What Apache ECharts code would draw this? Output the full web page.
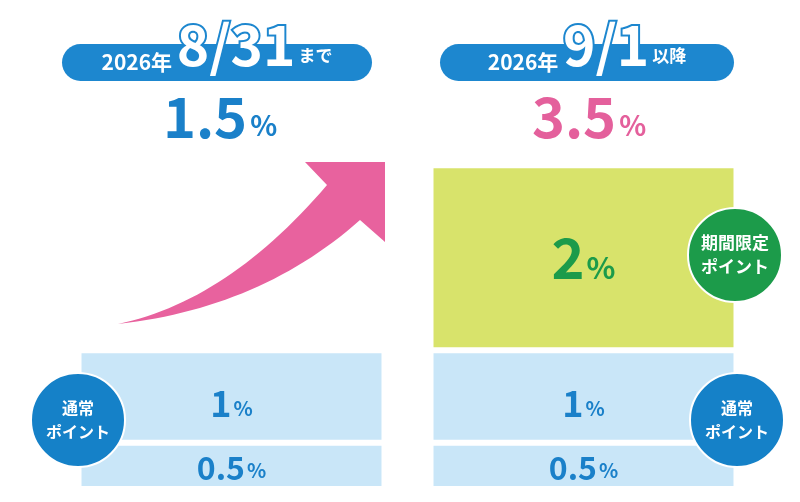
<!DOCTYPE html>
<html>
<head>
<meta charset="utf-8">
<script src="https://cdn.jsdelivr.net/npm/echarts@6/dist/echarts.min.js"></script>
<style>
  html, body { margin: 0; padding: 0; background: #fff; }
  #chart { width: 800px; height: 502px; }
</style>
</head>
<body>
<div id="chart"></div>
<script>
// データ
const periods = ['2026年8/31まで', '2026年9/1以降'];
const headerYear = ['2026年', '2026年'];
const headerDate = ['8/31', '9/1'];
const headerSuffix = ['まで', '以降'];
const basePoint = [0.5, 0.5];     // 0.5%
const normalPoint = [1, 1];       // 通常ポイント 1%
const limitedPoint = ['-', 2];    // 期間限定ポイント 2%

const FONT = '"Noto Sans CJK JP", "Noto Sans", sans-serif';
const BLUE = '#1a80c9';
const PILL = '#1d87cf';
const PINK = '#e4609c';
const GREEN = '#1c9b4a';
const LIGHT = '#c9e6f8';
const YELLOW = '#d8e36b';

const chart = echarts.init(document.getElementById('chart'));

function total(i) {
  let s = 0;
  [basePoint, normalPoint, limitedPoint].forEach(arr => {
    if (typeof arr[i] === 'number') s += arr[i];
  });
  return s;
}

function pctLabel(color, big, small) {
  return {
    show: true,
    position: 'inside',
    formatter: p => '{n|' + p.value + '}{p|%}',
    rich: {
      n: { fontFamily: FONT, fontWeight: 'bold', fontSize: big, color: color, verticalAlign: 'bottom' },
      p: { fontFamily: FONT, fontWeight: 'bold', fontSize: small, color: color, verticalAlign: 'bottom', padding: [0, 0, 3, 2] }
    }
  };
}

// 矢印 (装飾)
function quad(p0, c, p1, n) {
  const pts = [];
  for (let i = 0; i <= n; i++) {
    const t = i / n, u = 1 - t;
    pts.push([u * u * p0[0] + 2 * u * t * c[0] + t * t * p1[0],
              u * u * p0[1] + 2 * u * t * c[1] + t * t * p1[1]]);
  }
  return pts;
}
const tail = [118, 324];
const notch1 = [327, 185];
const notch2 = [360, 220];
const arrowPts = quad(tail, [228, 301], notch1, 30)
  .concat([[305, 162], [385, 162], [385, 242]])
  .concat(quad(notch2, [261, 308], tail, 30));

function header(cx, w, i) {
  return [
    { type: 'rect', z: 100, shape: { x: cx - w / 2, y: 44, width: w, height: 37, r: 18.5 }, style: { fill: PILL } },
    {
      type: 'text', z: 101, x: cx, y: 45,
      style: {
        text: '{a|' + headerYear[i] + ' }{b|' + headerDate[i] + '}{c|' + headerSuffix[i] + '}',
        align: 'center', verticalAlign: 'middle',
        rich: {
          a: { fontFamily: FONT, fontWeight: 'bold', fontSize: 21, fill: '#fff', verticalAlign: 'bottom' },
          b: { fontFamily: FONT, fontWeight: 'bold', fontSize: 55, fill: '#fff', verticalAlign: 'bottom',
               stroke: PILL, lineWidth: 4 },
          c: { fontFamily: FONT, fontWeight: 'bold', fontSize: 17, fill: '#fff', verticalAlign: 'bottom', padding: [0, 0, 8, 3] }
        }
      }
    }
  ];
}

function totalText(cx, i, color) {
  return {
    type: 'text', x: cx, y: 117, z: 100,
    style: {
      text: '{n|' + total(i) + '}{p|%}',
      align: 'center', verticalAlign: 'middle',
      rich: {
        n: { fontFamily: FONT, fontWeight: 'bold', fontSize: 56, fill: color, verticalAlign: 'bottom' },
        p: { fontFamily: FONT, fontWeight: 'bold', fontSize: 28, fill: color, verticalAlign: 'bottom', padding: [0, 0, 6, 3] }
      }
    }
  };
}

function badge(cx, cy, fill, text, size) {
  return [
    { type: 'circle', z: 100, shape: { cx: cx, cy: cy, r: 47 }, style: { fill: fill, stroke: '#fff', lineWidth: 2 } },
    {
      type: 'text', z: 101, x: cx, y: cy,
      style: {
        text: text, align: 'center', verticalAlign: 'middle',
        fontFamily: FONT, fontWeight: 'bold', fontSize: size, lineHeight: 24, fill: '#fff'
      }
    }
  ];
}

const option = {
  backgroundColor: '#fff',
  animation: false,
  grid: { left: 55.5, right: 40.5, top: 26.5, bottom: 13 },
  xAxis: { type: 'category', data: periods, show: false },
  yAxis: { type: 'value', min: 0, max: 5, show: false },
  series: [
    {
      name: '0.5%', type: 'bar', stack: 'pt', barWidth: 306, data: basePoint,
      itemStyle: { color: LIGHT, borderColor: '#fff', borderWidth: 3 },
      label: Object.assign(pctLabel(BLUE, 32, 20), { offset: [0, 2] })
    },
    {
      name: '通常ポイント', type: 'bar', stack: 'pt', data: normalPoint,
      itemStyle: { color: LIGHT, borderColor: '#fff', borderWidth: 3 },
      label: Object.assign(pctLabel(BLUE, 36, 20), { offset: [0, 7] })
    },
    {
      name: '期間限定ポイント', type: 'bar', stack: 'pt', data: limitedPoint,
      itemStyle: { color: YELLOW, borderColor: '#fff', borderWidth: 3 },
      label: pctLabel(GREEN, 56, 30)
    }
  ],
  graphic: [
    { type: 'polygon', z: 100, shape: { points: arrowPts }, style: { fill: '#e8629e' } }
  ].concat(
    header(217, 310, 0),
    header(587, 294, 1),
    [totalText(220, 0, BLUE), totalText(589, 1, PINK)],
    badge(78, 420, '#1581c8', '通常\nポイント', 16),
    badge(737, 420, '#1581c8', '通常\nポイント', 16),
    badge(735, 255, GREEN, '期間限定\nポイント', 17)
  )
};

chart.setOption(option);
</script>
</body>
</html>
